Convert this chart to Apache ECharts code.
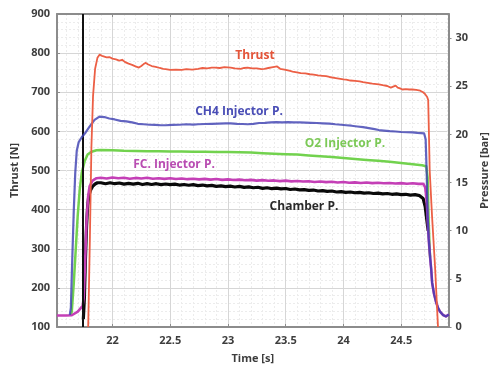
<!DOCTYPE html>
<html>
<head>
<meta charset="utf-8">
<script src="https://cdn.jsdelivr.net/npm/echarts@6/dist/echarts.min.js"></script>
<style>
  html, body { margin: 0; padding: 0; background: #ffffff; }
  #chart { width: 498px; height: 369px; }
</style>
</head>
<body>
<div id="chart"></div>
<script>
// Time axis ticks [s] and pressure/thrust tick labels
const timeTicks = [22, 22.5, 23, 23.5, 24, 24.5];
const timeMinor = [21.6, 21.7, 21.8, 21.9, 22.1, 22.2, 22.3, 22.4, 22.6, 22.7, 22.8, 22.9,
  23.1, 23.2, 23.3, 23.4, 23.6, 23.7, 23.8, 23.9, 24.1, 24.2, 24.3, 24.4, 24.6, 24.7, 24.8, 24.9];
const thrustTicks = [100, 200, 300, 400, 500, 600, 700, 800, 900];
const pressureTicks = [0, 5, 10, 15, 20, 25, 30];

// Ignition marker time [s]
const ignitionTime = 21.742;

// Thrust [N] : [time, value]
const thrust = [
  [21.79,100],[21.805,330],[21.818,560],[21.832,690],[21.85,760],[21.87,788],[21.888,796],[21.91,793],
  [21.93,791],[21.95,789],[21.973,790],[22.00,786],[22.03,784],[22.06,781],[22.084,783],[22.11,777],
  [22.14,773],[22.17,770],[22.20,766],[22.229,763],[22.25,767],[22.27,772],[22.289,775],[22.31,771],
  [22.34,767],[22.375,765],[22.41,762],[22.44,760],[22.46,759],[22.50,757],[22.55,758],[22.60,757],
  [22.64,759],[22.69,758],[22.742,760],[22.78,762],[22.82,761],[22.86,763],[22.888,763],[22.93,762],
  [22.97,764],[23.024,763],[23.06,761],[23.11,760],[23.14,762],[23.17,763],[23.21,761],[23.25,761],
  [23.29,759],[23.315,760],[23.35,762],[23.39,764],[23.426,766],[23.452,760],[23.49,758],[23.53,755],
  [23.56,753],[23.597,751],[23.63,749],[23.67,748],[23.71,746],[23.742,745],[23.78,743],[23.82,742],
  [23.85,741],[23.879,739],[23.92,737],[23.96,735],[24.00,733],[24.024,732],[24.06,730],[24.10,729],
  [24.14,728],[24.17,726],[24.21,724],[24.25,722],[24.306,720],[24.34,718],[24.38,716],[24.41,712],
  [24.426,714],[24.452,717],[24.47,712],[24.49,710],[24.511,707],[24.54,708],[24.57,707],[24.597,707],
  [24.63,706],[24.665,704],[24.69,700],[24.708,695],[24.725,688],[24.734,680],[24.74,600],[24.747,500],
  [24.768,380],[24.794,250],[24.819,100]
];

// CH4 injector pressure [bar]
const ch4Injector = [
  [21.631,1.25],[21.64,2],[21.652,7],[21.665,12],[21.678,16],[21.691,18.3],
  [21.708,19.2],[21.734,19.7],[21.768,20.2],[21.802,20.8],[21.845,21.5],[21.888,21.85],[21.93,21.8],
  [21.973,21.65],[22.02,21.55],[22.07,21.4],[22.12,21.35],[22.17,21.25],[22.22,21.1],[22.27,21.05],
  [22.32,21.0],[22.37,20.98],[22.42,20.95],[22.46,20.95],[22.52,20.98],[22.58,21.0],[22.64,21.05],
  [22.70,21.02],[22.742,21.05],[22.80,21.08],[22.86,21.1],[22.92,21.12],[22.98,21.15],[23.024,21.15],
  [23.08,21.1],[23.13,21.08],[23.17,21.05],[23.22,21.1],[23.27,21.18],[23.32,21.2],[23.37,21.25],
  [23.42,21.28],[23.47,21.25],[23.52,21.27],[23.57,21.25],[23.62,21.24],[23.67,21.22],[23.72,21.2],
  [23.77,21.18],[23.82,21.15],[23.879,21.12],[23.93,21.05],[23.98,21.0],[24.024,20.95],[24.07,20.9],
  [24.12,20.82],[24.17,20.75],[24.22,20.65],[24.27,20.55],[24.306,20.45],[24.35,20.4],[24.40,20.33],
  [24.452,20.3],[24.50,20.25],[24.55,20.22],[24.597,20.2],[24.64,20.15],[24.699,20.1],[24.712,19.5],
  [24.721,16],[24.729,11.5],[24.738,9.2],[24.751,7.2],[24.760,6.0],[24.768,4.6],[24.785,3.4],
  [24.802,2.6],[24.819,2.0],[24.836,1.6],[24.862,1.25],[24.888,1.1],[24.913,1.3]
];

// O2 injector pressure [bar]
const o2Injector = [
  [21.64,1.25],[21.648,1.6],[21.665,4.5],[21.682,8],[21.699,11.5],[21.717,14.3],
  [21.734,16.0],[21.759,17.2],[21.785,17.9],[21.819,18.2],[21.862,18.35],[21.90,18.38],[22.0,18.35],
  [22.1,18.3],[22.2,18.28],[22.3,18.25],[22.4,18.25],[22.5,18.22],[22.6,18.22],[22.7,18.2],[22.8,18.2],
  [22.9,18.18],[23.0,18.18],[23.1,18.15],[23.2,18.12],[23.3,18.05],[23.4,18.0],[23.5,17.95],[23.6,17.9],
  [23.7,17.8],[23.8,17.72],[23.9,17.65],[24.0,17.55],[24.1,17.45],[24.2,17.35],[24.3,17.25],[24.4,17.15],
  [24.5,17.02],[24.6,16.9],[24.68,16.8],[24.717,16.7],[24.729,15.5],[24.738,11],[24.747,8],[24.751,7.2]
];

// FC injector pressure [bar]
const fcInjector = [
  [21.52,1.2],[21.60,1.2],[21.648,1.22],[21.70,1.6],[21.742,2.2],[21.751,3],[21.764,7],[21.776,11],
  [21.789,13.5],[21.802,14.6],[21.828,15.2],[21.862,15.45],[21.90,15.5],[21.95,15.42],[22.00,15.52],
  [22.05,15.45],[22.10,15.5],[22.15,15.4],[22.20,15.48],[22.25,15.42],[22.30,15.5],[22.35,15.4],
  [22.40,15.45],[22.45,15.38],[22.50,15.44],[22.55,15.36],[22.60,15.42],[22.65,15.35],[22.70,15.4],
  [22.75,15.33],[22.80,15.38],[22.85,15.3],[22.90,15.36],[22.95,15.28],[23.00,15.33],[23.05,15.26],
  [23.10,15.3],[23.15,15.24],[23.20,15.28],[23.25,15.2],[23.30,15.25],[23.35,15.18],[23.40,15.22],
  [23.45,15.15],[23.50,15.2],[23.55,15.12],[23.60,15.16],[23.65,15.1],[23.70,15.14],[23.75,15.06],
  [23.80,15.1],[23.85,15.04],[23.90,15.08],[23.95,15.0],[24.00,15.05],[24.05,14.98],[24.10,15.02],
  [24.15,14.96],[24.20,15.0],[24.25,14.94],[24.30,14.98],[24.35,14.92],[24.40,14.96],[24.45,14.9],
  [24.50,14.94],[24.55,14.88],[24.60,14.92],[24.65,14.86],[24.691,14.88],[24.708,14.5],[24.717,13.6],
  [24.725,12.2],[24.734,10],[24.742,8.5],[24.751,7.2],[24.760,6.0],[24.768,4.6],[24.785,3.4],
  [24.802,2.6],[24.819,2.0],[24.836,1.6],[24.862,1.25],[24.888,1.1],[24.913,1.3]
];

// Chamber pressure [bar]
const chamber = [
  [21.748,0.8],[21.757,3],[21.766,7],[21.776,10.5],[21.785,12.5],[21.795,13.6],[21.81,14.2],
  [21.828,14.6],[21.85,14.85],[21.87,14.98],[21.90,14.98],[21.94,14.88],[21.98,14.98],[22.02,14.88],
  [22.06,14.95],[22.10,14.84],[22.14,14.92],[22.18,14.84],[22.22,14.92],[22.26,14.8],[22.30,14.88],
  [22.34,14.8],[22.38,14.88],[22.42,14.78],[22.46,14.85],[22.50,14.78],[22.54,14.84],[22.58,14.74],
  [22.62,14.8],[22.66,14.72],[22.70,14.78],[22.74,14.68],[22.78,14.74],[22.82,14.65],[22.86,14.7],
  [22.90,14.6],[22.94,14.66],[22.98,14.57],[23.02,14.63],[23.06,14.54],[23.10,14.6],[23.14,14.5],
  [23.18,14.55],[23.22,14.46],[23.26,14.51],[23.30,14.4],[23.34,14.46],[23.38,14.36],[23.42,14.42],
  [23.46,14.34],[23.50,14.38],[23.54,14.28],[23.58,14.33],[23.62,14.24],[23.66,14.27],[23.70,14.18],
  [23.74,14.22],[23.78,14.12],[23.82,14.16],[23.86,14.08],[23.90,14.12],[23.94,14.02],[23.98,14.06],
  [24.02,13.98],[24.06,14.02],[24.10,13.94],[24.14,13.98],[24.18,13.9],[24.22,13.94],[24.26,13.86],
  [24.30,13.9],[24.34,13.82],[24.38,13.86],[24.42,13.78],[24.46,13.82],[24.50,13.75],[24.54,13.78],
  [24.58,13.7],[24.62,13.74],[24.66,13.64],[24.69,13.35],[24.708,12.5],[24.72,11.3],[24.734,10]
];

const FONT = '"Open Sans", "DejaVu Sans", sans-serif';
const AXIS_GREY = '#8c8c8c';
const LABEL = '#3d3d3d';

const chart = echarts.init(document.getElementById('chart'), null, { renderer: 'canvas' });

const axisText = { color: LABEL, fontFamily: FONT, fontWeight: 'bold', fontSize: 11 };

function line(name, data, color, width, yIdx, z, opacity) {
  return {
    name, type: 'line', data, xAxisIndex: 0, yAxisIndex: yIdx,
    showSymbol: false, symbol: 'none', z,
    lineStyle: { color, width, join: 'round', opacity: opacity == null ? 1 : opacity },
    animation: false
  };
}

chart.setOption({
  animation: false,
  backgroundColor: '#ffffff',
  grid: { left: 57, right: 44, top: 14, bottom: 40, containLabel: false },
  xAxis: [
    {
      type: 'value', position: 'bottom', min: 21.52, max: 24.91,
      name: 'Time [s]', nameLocation: 'middle', nameGap: 26,
      nameTextStyle: { ...axisText, fontSize: 11 },
      axisLine: { show: true, lineStyle: { color: AXIS_GREY, width: 2 } },
      axisTick: { show: true, inside: true, length: 3, customValues: timeTicks, lineStyle: { color: AXIS_GREY } },
      axisLabel: { ...axisText, margin: 8, customValues: timeTicks, formatter: v => String(v) },
      splitLine: { show: true, lineStyle: { color: '#d6d6d6', width: 1 } }
    },
    {
      type: 'value', position: 'top', min: 21.52, max: 24.91,
      axisLine: { show: true, lineStyle: { color: AXIS_GREY, width: 2 } },
      axisTick: { show: true, inside: true, length: 3, customValues: timeTicks, lineStyle: { color: AXIS_GREY } },
      axisLabel: { show: false },
      splitLine: { show: false }
    },
    {
      type: 'value', position: 'bottom', min: 21.52, max: 24.91,
      axisLine: { show: false },
      axisTick: { show: false, customValues: timeMinor },
      axisLabel: { show: false, customValues: timeMinor },
      splitLine: { show: true, lineStyle: { color: '#ececec', width: 1, type: [2, 2] } }
    }
  ],
  yAxis: [
    {
      type: 'value', position: 'left', min: 100, max: 900, interval: 100,
      name: 'Thrust [N]', nameLocation: 'middle', nameGap: 33, nameRotate: 90,
      nameTextStyle: { ...axisText },
      axisLine: { show: true, lineStyle: { color: AXIS_GREY, width: 2 } },
      axisTick: { show: true, inside: true, length: 3, lineStyle: { color: AXIS_GREY } },
      axisLabel: { ...axisText, margin: 7 },
      splitLine: { show: true, lineStyle: { color: '#d6d6d6', width: 1 } },
      minorTick: { show: false, splitNumber: 5 },
      minorSplitLine: { show: true, lineStyle: { color: '#ececec', width: 1, type: [2, 2] } }
    },
    {
      type: 'value', position: 'right', min: 0, max: 32.5, interval: 5,
      name: 'Pressure [bar]', nameLocation: 'middle', nameGap: 29, nameRotate: 90,
      nameTextStyle: { ...axisText },
      axisLine: { show: true, lineStyle: { color: AXIS_GREY, width: 2 } },
      axisTick: { show: true, inside: false, length: 3, lineStyle: { color: AXIS_GREY } },
      axisLabel: { ...axisText, margin: 7, showMaxLabel: false },
      splitLine: { show: false }
    }
  ],
  series: [
    Object.assign(line('Chamber P.', chamber, '#0a0a0a', 3.2, 1, 2), {
      markLine: {
        silent: true, symbol: 'none', label: { show: false },
        lineStyle: { color: '#111111', width: 2, type: 'solid' },
        data: [{ xAxis: ignitionTime }]
      }
    }),
    line('O2 Injector P.', o2Injector, '#72d24e', 2.5, 1, 3),
    line('FC. Injector P.', fcInjector, '#c43fb6', 2.6, 1, 4),
    line('CH4 Injector P.', ch4Injector, '#3b3db0', 2.2, 1, 5, 0.8),
    line('Thrust', thrust, '#ec5f45', 1.8, 0, 6)
  ],
  graphic: [
    { type: 'text', z: 100, style: { text: 'Thrust', x: 255, y: 56, align: 'center', verticalAlign: 'middle', fill: '#e4553a', font: 'bold 12px ' + FONT } },
    { type: 'text', z: 100, style: { text: 'CH4 Injector P.', x: 239, y: 112, align: 'center', verticalAlign: 'middle', fill: '#4a4eb6', font: 'bold 12px ' + FONT } },
    { type: 'text', z: 100, style: { text: 'O2 Injector P.', x: 345, y: 144, align: 'center', verticalAlign: 'middle', fill: '#7cc957', font: 'bold 12px ' + FONT } },
    { type: 'text', z: 100, style: { text: 'FC. Injector P.', x: 174, y: 165, align: 'center', verticalAlign: 'middle', fill: '#b94db2', font: 'bold 12px ' + FONT } },
    { type: 'text', z: 100, style: { text: 'Chamber P.', x: 304, y: 207, align: 'center', verticalAlign: 'middle', fill: '#2a2a2a', font: 'bold 12px ' + FONT } }
  ]
});
</script>
</body>
</html>
